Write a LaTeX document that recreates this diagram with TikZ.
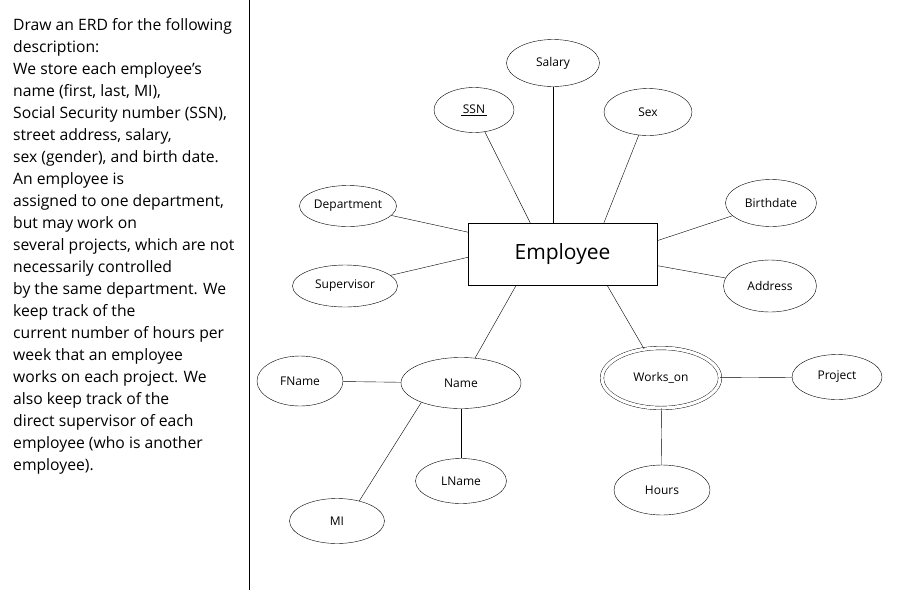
\documentclass[tikz,border=0pt]{standalone}
\usepackage{fontspec}
\setmainfont{Open Sans}
\usetikzlibrary{positioning, shapes.geometric}

\begin{document}
\begin{tikzpicture}[
  x=1pt, y=-1pt,
  attr/.style={ellipse, draw, thin, inner sep=0pt, font=\fontsize{12}{14}\selectfont, text centered},
  entity/.style={rectangle, draw, thin, minimum width=189pt, minimum height=62pt, inner sep=0pt, font=\fontsize{21}{24}\selectfont},
  relship/.style={attr, double, double distance=3.2pt},
  link/.style={thin}
]
\useasboundingbox (0,0) rectangle (914,590);

%% Description on the left
\node[anchor=north west, align=left, inner sep=0pt, font=\fontsize{15.7}{22}\selectfont] (desc) at (13,18)
  {Draw an ERD for the following\\description:\\We store each employee’s\\name (first, last, MI),\\Social Security number (SSN),\\street address, salary,\\sex (gender), and birth date.\\An employee is\\assigned to one department,\\but may work on\\several projects, which are not\\necessarily controlled\\by the same department. We\\keep track of the\\current number of hours per\\week that an employee\\works on each project. We\\also keep track of the\\direct supervisor of each\\employee (who is another\\employee).};

%% Separator
\coordinate (septop) at (249,0);
\coordinate (sepbot) at (249,590);
\draw[thick] (septop) -- (sepbot);

%% Entity
\node[entity] (emp) at (562.5,254) {\raisebox{-3pt}{Employee}};

%% Attributes of the entity
\node[attr, minimum width=93pt, minimum height=47pt] (salary) at (553,63) {Salary};
\node[attr, minimum width=80pt, minimum height=45pt] (ssn) at (474,110) {\underline{\,SSN\,}};
\node[attr, minimum width=88pt, minimum height=47pt] (sex) at (648,112) {Sex};
\node[attr, minimum width=97pt, minimum height=41pt] (dept) at (348,206) {Department};
\node[attr, minimum width=105pt, minimum height=42pt] (super) at (345,286) {Supervisor};
\node[attr, minimum width=91pt, minimum height=47pt] (birth) at (771,203) {Birthdate};
\node[attr, minimum width=93pt, minimum height=52pt] (addr) at (770,286) {Address};

%% Composite name
\node[attr, minimum width=120pt, minimum height=51pt] (name) at (461,383) {Name};
\node[attr, minimum width=86pt, minimum height=50pt] (fname) at (300,381) {FName};
\node[attr, minimum width=91pt, minimum height=45pt] (lname) at (461,481) {LName};
\node[attr, minimum width=95pt, minimum height=45pt] (mi) at (337,521) {MI};

%% Relationship
\node[relship, minimum width=118pt, minimum height=60pt] (works) at (661,378) {Works\_on};
\node[attr, minimum width=90pt, minimum height=45pt] (project) at (837,377) {Project};
\node[attr, minimum width=96pt, minimum height=50pt] (hours) at (662,490) {Hours};

%% Connections
\draw[link] (salary) -- (salary |- emp.north);
\draw[link] (emp.136) -- (ssn);
\draw[link] (emp.37) -- (sex);
\draw[link] (emp.167) -- (dept);
\draw[link] (emp.182) -- (super);
\draw[link] (emp.8) -- (birth);
\draw[link] (emp.353) -- (addr);
\draw[link] (emp.214) -- (name);
\draw[link] (emp.325) -- (works);

\draw[link] (fname) -- (name);
\draw[link] (name) -- (lname);
\draw[link] (name.206) -- (mi.42);

\draw[link] (works) -- (project);
\draw[link] (works) -- (hours);

\end{tikzpicture}
\end{document}
